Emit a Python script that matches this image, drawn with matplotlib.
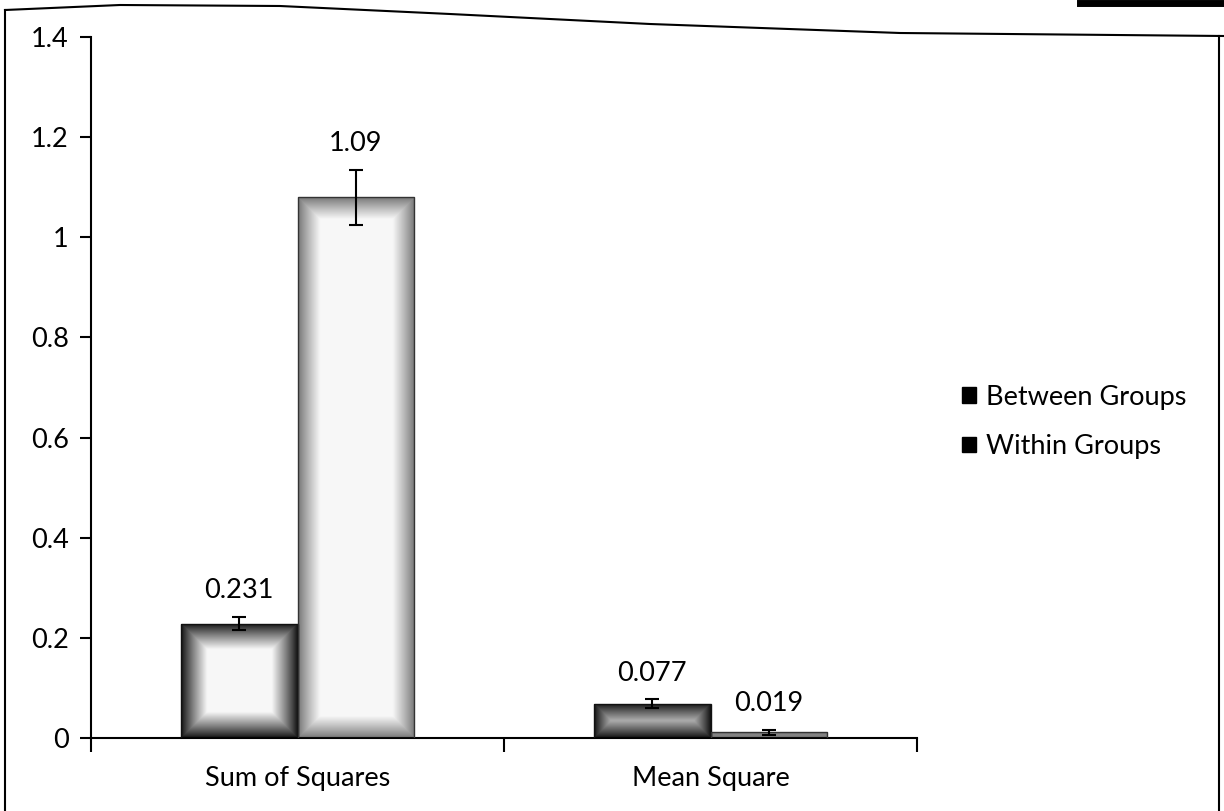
import numpy as np
import matplotlib
matplotlib.use("Agg")
import matplotlib.pyplot as plt
from matplotlib.patches import Patch
from matplotlib.lines import Line2D
from matplotlib.ticker import FuncFormatter

plt.rcParams['font.family'] = ['Lato', 'DejaVu Sans']
plt.rcParams['font.size'] = 19.5

# data
categories = ['Sum of Squares', 'Mean Square']
series = ['Between Groups', 'Within Groups']
between_vals = [0.228, 0.068]
within_vals = [1.08, 0.011]
between_err = [0.013, 0.009]
within_err = [0.055, 0.005]
between_labels = ['0.231', '0.077']
within_labels = ['1.09', '0.019']

fig = plt.figure(figsize=(12.24, 8.11), dpi=100)
ax = fig.add_axes([91/1224, 1 - 738/811, 826/1224, 701/811])
ax.set_xlim(-0.5, 1.5)
ax.set_ylim(0, 1.4)

x = np.arange(len(categories))
w = 0.283


def gradient_bar(rect, edge, band):
    # dark rim fading to white in the middle, like the excel fill
    x0, y0 = rect.get_x(), rect.get_y()
    x1, y1 = x0 + rect.get_width(), y0 + rect.get_height()
    p0 = ax.transData.transform((x0, y0))
    p1 = ax.transData.transform((x1, y1))
    wp = max(int(abs(p1[0] - p0[0])), 2)
    hp = max(int(abs(p1[1] - p0[1])), 2)
    xx = np.arange(wp) + 0.5
    yy = np.arange(hp) + 0.5
    dx = np.minimum(xx, wp - xx)[None, :]
    dy = np.minimum(yy, hp - yy)[:, None]
    d = np.minimum(dx, dy)
    t = np.clip(d / band, 0, 1) ** 0.9
    g = edge + (0.97 - edge) * t
    img = np.dstack([g, g, g])
    im = ax.imshow(img, extent=[x0, x1, y0, y1], aspect='auto',
                   interpolation='bilinear', zorder=2, origin='lower')
    im.set_clip_path(rect)


bars_b = ax.bar(x - w/2, between_vals, w, facecolor='none', edgecolor='#111111',
                linewidth=1.0, zorder=3)
bars_w = ax.bar(x + w/2, within_vals, w, facecolor='none', edgecolor='#333333',
                linewidth=1.0, zorder=3)
for r in bars_b:
    gradient_bar(r, 0.05, 26)
for r in bars_w:
    gradient_bar(r, 0.45, 22)

ax.errorbar(x - w/2, between_vals, yerr=between_err, fmt='none', ecolor='black',
            elinewidth=1.5, capsize=5, capthick=1.5, zorder=4)
ax.errorbar(x + w/2, within_vals, yerr=within_err, fmt='none', ecolor='black',
            elinewidth=1.5, capsize=5, capthick=1.5, zorder=4)

for xi, v, e, lab in zip(x - w/2, between_vals, between_err, between_labels):
    ax.annotate(lab, (xi, v + e), xytext=(0, 10), textcoords='offset points',
                ha='center', va='bottom')
for xi, v, e, lab in zip(x + w/2, within_vals, within_err, within_labels):
    ax.annotate(lab, (xi, v + e), xytext=(0, 10), textcoords='offset points',
                ha='center', va='bottom')

ax.set_yticks(np.arange(0, 1.41, 0.2))
ax.yaxis.set_major_formatter(FuncFormatter(lambda v, p: '%g' % round(v, 1)))
ax.tick_params(axis='y', direction='out', length=8, width=1.5, pad=8)

ax.set_xticks([-0.5, 0.5, 1.5])
ax.set_xticklabels([])
ax.set_xticks(x, minor=True)
ax.set_xticklabels(categories, minor=True)
ax.tick_params(axis='x', which='major', direction='out', length=10, width=1.5)
ax.tick_params(axis='x', which='minor', length=0, pad=20)

for s in ['top', 'right']:
    ax.spines[s].set_visible(False)
for s in ['left', 'bottom']:
    ax.spines[s].set_linewidth(1.5)

handles = [Patch(facecolor='black', edgecolor='black', label=s) for s in series]
fig.legend(handles=handles, loc='center left', bbox_to_anchor=(962/1224, 1 - 422/811),
           frameon=False, handlelength=0.5, handleheight=0.5, handletextpad=0.4,
           labelspacing=0.9, borderpad=0, borderaxespad=0)

# scanned page border
fig.add_artist(Line2D([5/1224, 5/1224], [0, 1 - 10/811], color='black', lw=1.5))
fig.add_artist(Line2D([1219/1224, 1219/1224], [0, 1 - 36/811], color='black', lw=1.5))
bx = np.array([5, 120, 280, 450, 650, 900, 1224]) / 1224
by = 1 - np.array([10, 5, 6, 14, 24, 33, 36]) / 811
fig.add_artist(Line2D(bx, by, color='black', lw=1.5))
fig.add_artist(Line2D([1080/1224, 1224/1224], [1 - 3/811, 1 - 3/811], color='black', lw=5))

fig.savefig('out.png', dpi=100)
